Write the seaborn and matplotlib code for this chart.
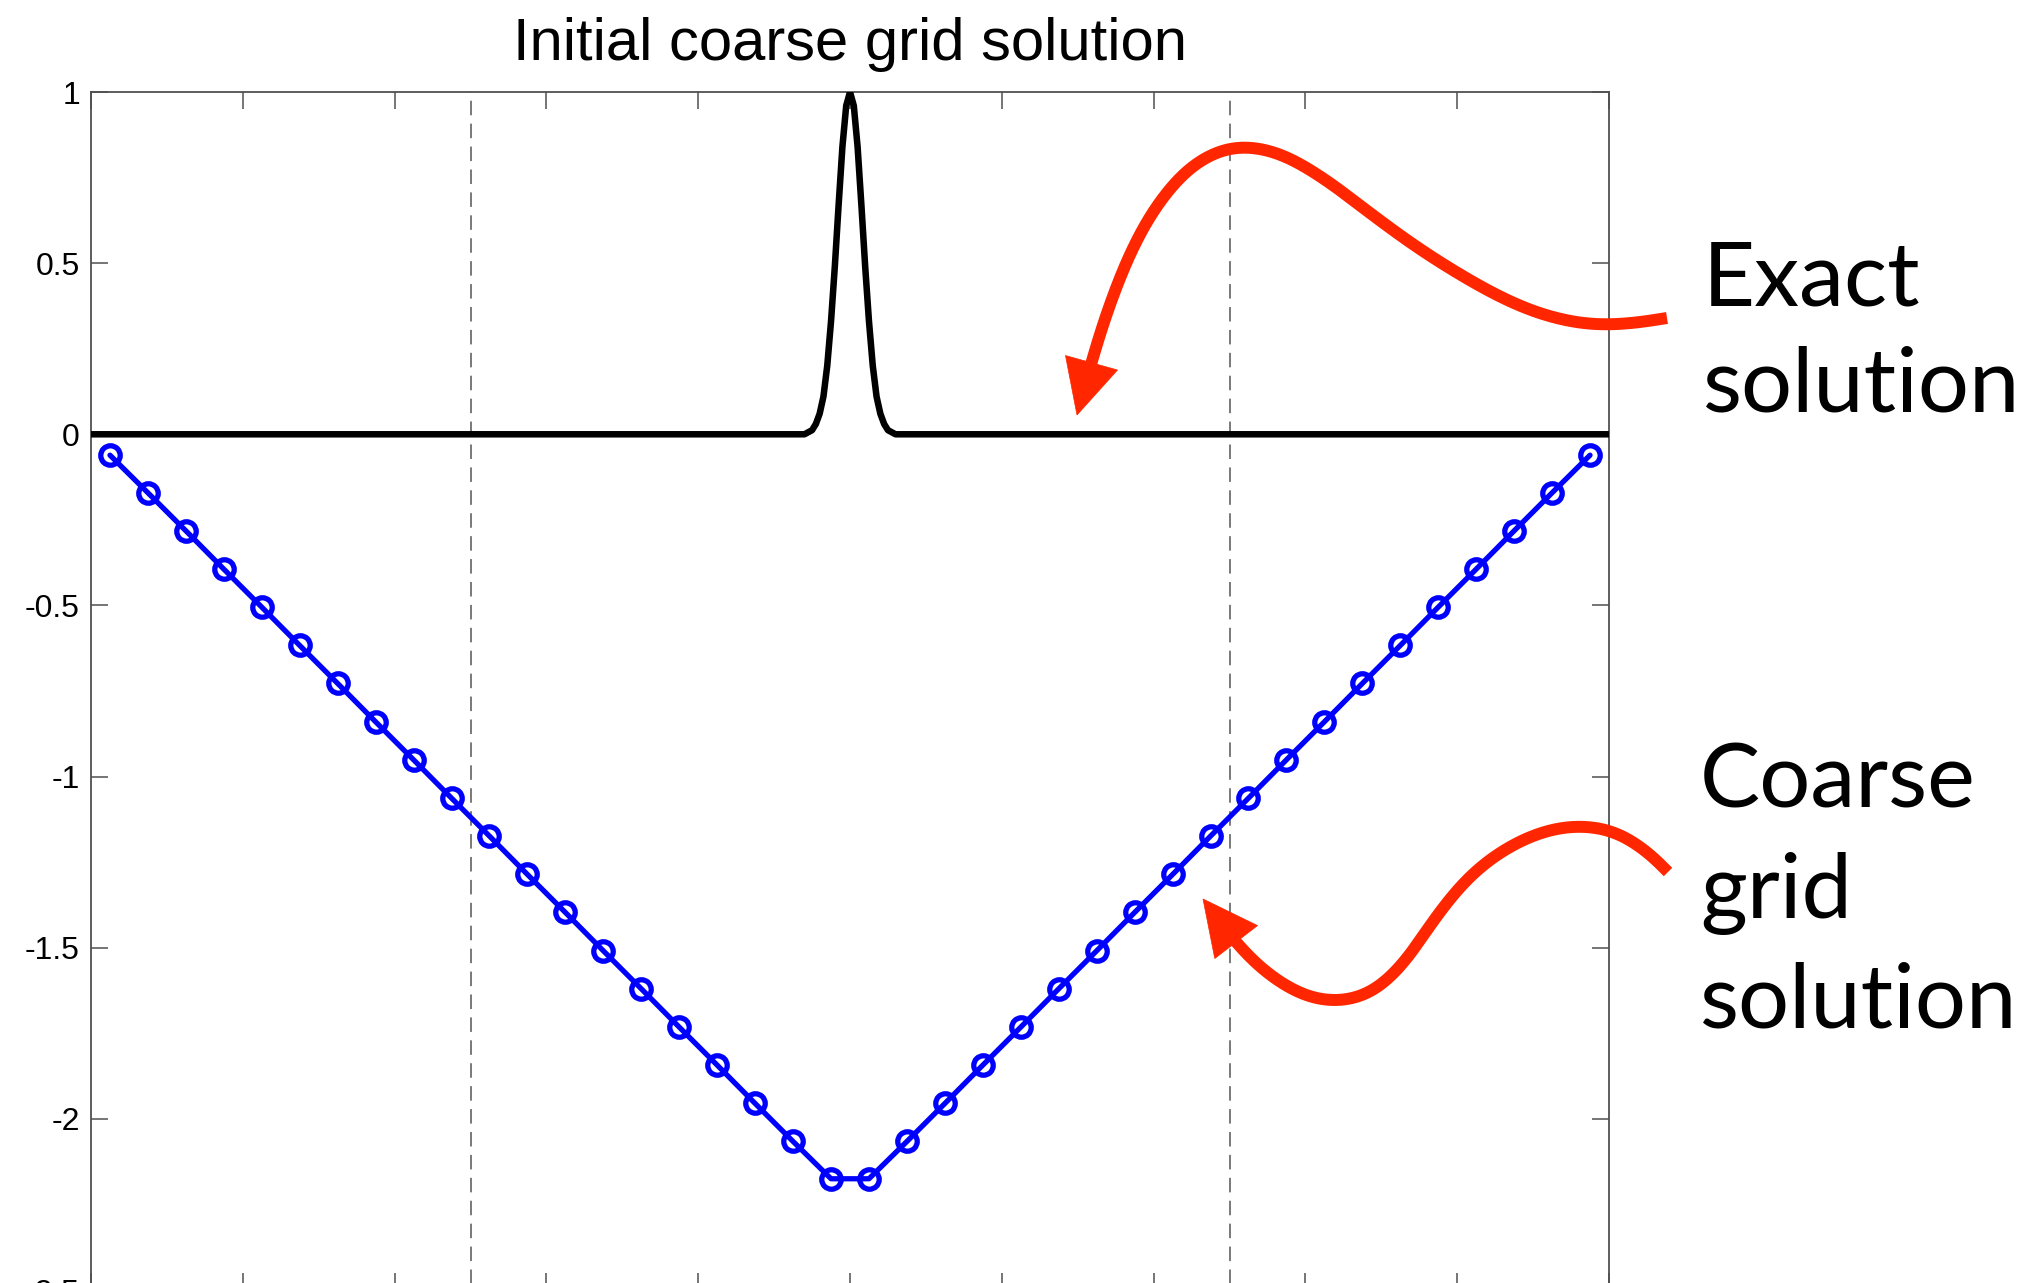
import numpy as np
import pandas as pd
import matplotlib
matplotlib.use("Agg")
import matplotlib.pyplot as plt
from matplotlib.lines import Line2D
from matplotlib.patches import Polygon
import seaborn as sns

# ---------------- data ----------------
# coarse grid nodes (cell centres) and coarse-grid solution values
coarse_x = [0.0125, 0.0375, 0.0625, 0.0875, 0.1125, 0.1375, 0.1625, 0.1875,
            0.2125, 0.2375, 0.2625, 0.2875, 0.3125, 0.3375, 0.3625, 0.3875,
            0.4125, 0.4375, 0.4625, 0.4875, 0.5125, 0.5375, 0.5625, 0.5875,
            0.6125, 0.6375, 0.6625, 0.6875, 0.7125, 0.7375, 0.7625, 0.7875,
            0.8125, 0.8375, 0.8625, 0.8875, 0.9125, 0.9375, 0.9625, 0.9875]
coarse_u = [-0.061, -0.171, -0.282, -0.394, -0.505, -0.617, -0.728, -0.840,
            -0.951, -1.063, -1.174, -1.286, -1.397, -1.509, -1.620, -1.732,
            -1.843, -1.955, -2.066, -2.175, -2.175, -2.066, -1.955, -1.843,
            -1.732, -1.620, -1.509, -1.397, -1.286, -1.174, -1.063, -0.951,
            -0.840, -0.728, -0.617, -0.505, -0.394, -0.282, -0.171, -0.061]

# exact solution (narrow peak at x = 0.5)
exact_x = [0.0, 0.47, 0.475, 0.4775, 0.48, 0.4825, 0.485, 0.4875, 0.49,
           0.4925, 0.495, 0.4975, 0.5, 0.5025, 0.505, 0.5075, 0.51, 0.5125,
           0.515, 0.5175, 0.52, 0.5225, 0.525, 0.53, 1.0]
exact_u = [0.0, 0.0, 0.012, 0.03, 0.06, 0.11, 0.20, 0.33, 0.49,
           0.67, 0.84, 0.96, 1.0, 0.96, 0.84, 0.67, 0.49, 0.33,
           0.20, 0.11, 0.06, 0.03, 0.012, 0.0, 0.0]

# coarse-grid subdomain boundaries (dashed lines)
boundaries = [0.25, 0.75]

y_ticks = [1, 0.5, 0, -0.5, -1, -1.5, -2, -2.5]
y_tick_labels = ["1", "0.5", "0", "-0.5", "-1", "-1.5", "-2", "-2.5"]
x_ticks = [0.0, 0.1, 0.2, 0.3, 0.4, 0.5, 0.6, 0.7, 0.8, 0.9, 1.0]

title = "Initial coarse grid solution"
label_exact = ["Exact", "solution"]
label_coarse = ["Coarse", "grid", "solution"]

# ---------------- figure ----------------
sns.set_theme(style="ticks")
plt.rcParams["font.family"] = ["Liberation Sans", "DejaVu Sans"]

W, H = 2044, 1283
fig = plt.figure(figsize=(W / 100, H / 100), dpi=100)
fig.patch.set_facecolor("white")


def fx(px):
    return np.asarray(px, float) / W


def fy(py):
    return 1 - np.asarray(py, float) / H


ax_left, ax_right, ax_top, ax_bottom = 91, 1609, 92, 1290
ax = fig.add_axes([fx(ax_left), fy(ax_bottom), fx(ax_right - ax_left),
                   (ax_bottom - ax_top) / H])
ax.set_facecolor("white")

# dashed boundaries
for b in boundaries:
    ax.axvline(b, color="#555555", lw=1.1, linestyle=(0, (9.5, 5.5)), zorder=1)

df_exact = pd.DataFrame({"x": exact_x, "u": exact_u})
df_coarse = pd.DataFrame({"x": coarse_x, "u": coarse_u})

sns.lineplot(data=df_exact, x="x", y="u", ax=ax, color="black", lw=4.7,
             sort=False, zorder=3)
sns.lineplot(data=df_coarse, x="x", y="u", ax=ax, color="#0000ff", lw=3.8,
             marker="o", markersize=14, markerfacecolor="none",
             markeredgecolor="#0000ff", markeredgewidth=3.8, zorder=4,
             clip_on=False)

ax.set_xlim(0, 1)
ax.set_ylim(-2.5, 1)
ax.set_xticks(x_ticks)
ax.set_xticklabels([""] * len(x_ticks))
ax.set_yticks(y_ticks)
ax.set_yticklabels(y_tick_labels)
ax.set_xlabel("")
ax.set_ylabel("")

spine_col = "#505050"
for s in ax.spines.values():
    s.set_visible(True)
    s.set_color(spine_col)
    s.set_linewidth(1.3)
ax.tick_params(axis="both", which="both", direction="in", length=12,
               width=1.1, color=spine_col, top=True, right=True,
               labelsize=23, labelcolor="black", pad=8)

ax.set_title(title, fontsize=43, color="black", pad=23)

# ---------------- annotations ----------------
txt_kw = dict(family=["Lato", "DejaVu Sans"], fontsize=65, color="black",
              ha="left", va="baseline", transform=fig.transFigure)
for line, yb in zip(label_exact, [306, 412]):
    fig.text(fx(1703), fy(yb), line, **txt_kw)
for line, yb in zip(label_coarse, [808, 918, 1027]):
    fig.text(fx(1700), fy(yb), line, **txt_kw)


def centripetal_cr(pts, n=40, alpha=0.5):
    P = np.asarray(pts, float)
    P = np.vstack([2 * P[0] - P[1], P, 2 * P[-1] - P[-2]])
    out = []
    for i in range(1, len(P) - 2):
        p0, p1, p2, p3 = P[i - 1], P[i], P[i + 1], P[i + 2]
        t0 = 0.0
        t1 = t0 + np.linalg.norm(p1 - p0) ** alpha
        t2 = t1 + np.linalg.norm(p2 - p1) ** alpha
        t3 = t2 + np.linalg.norm(p3 - p2) ** alpha
        t = np.linspace(t1, t2, n, endpoint=False)[:, None]
        A1 = (t1 - t) / (t1 - t0) * p0 + (t - t0) / (t1 - t0) * p1
        A2 = (t2 - t) / (t2 - t1) * p1 + (t - t1) / (t2 - t1) * p2
        A3 = (t3 - t) / (t3 - t2) * p2 + (t - t2) / (t3 - t2) * p3
        B1 = (t2 - t) / (t2 - t0) * A1 + (t - t0) / (t2 - t0) * A2
        B2 = (t3 - t) / (t3 - t1) * A2 + (t - t1) / (t3 - t1) * A3
        C = (t2 - t) / (t2 - t1) * B1 + (t - t1) / (t2 - t1) * B2
        out.append(C)
    out.append(P[-2][None])
    return np.vstack(out)


def resample_smooth(c, step=2.0, win=41):
    # resample by arc length, then smooth with odd-reflected padding
    seg = np.hypot(*np.diff(c, axis=0).T)
    s = np.concatenate([[0], np.cumsum(seg)])
    ss = np.arange(0, s[-1], step)
    ss = np.append(ss, s[-1])
    r = np.column_stack([np.interp(ss, s, c[:, 0]), np.interp(ss, s, c[:, 1])])
    h = win // 2
    pre = 2 * r[0] - r[1:h + 1][::-1]
    post = 2 * r[-1] - r[-h - 1:-1][::-1]
    rp = np.vstack([pre, r, post])
    k = np.ones(win) / win
    sm = np.column_stack([np.convolve(rp[:, 0], k, mode="valid"),
                          np.convolve(rp[:, 1], k, mode="valid")])
    return sm


red = "#ff2600"


def curved_arrow(pts, head_len=54, head_w=54, lw=8.6):
    c = resample_smooth(centripetal_cr(pts))
    tip = c[-1]
    d = np.hypot(c[:, 0] - tip[0], c[:, 1] - tip[1])
    idx = np.where(d >= head_len)[0][-1]
    base = c[idx]
    body = np.vstack([c[:idx + 1], base + (tip - base) * 0.3])
    fig.add_artist(Line2D(fx(body[:, 0]), fy(body[:, 1]), color=red, lw=lw,
                          solid_capstyle="butt", solid_joinstyle="round",
                          transform=fig.transFigure, zorder=10))
    v = (tip - base) / np.hypot(*(tip - base))
    nrm = np.array([-v[1], v[0]])
    c1 = base + nrm * head_w / 2
    c2 = base - nrm * head_w / 2
    tri = np.array([tip, c1, c2])
    fig.add_artist(Polygon(np.column_stack([fx(tri[:, 0]), fy(tri[:, 1])]),
                           closed=True, facecolor=red, edgecolor=red, lw=0.5,
                           transform=fig.transFigure, zorder=11))


arrow1 = [(1667, 318), (1603, 326), (1536, 313), (1469, 280), (1402, 237),
          (1353, 200), (1312, 170), (1268, 148), (1245, 144), (1210, 152),
          (1179, 177), (1147, 220), (1120, 277), (1098, 340), (1077, 415)]
arrow2 = [(1668, 872), (1632, 838), (1580, 824), (1520, 840), (1465, 880),
          (1420, 940), (1385, 985), (1340, 1004), (1290, 990), (1240, 948),
          (1203, 899)]
curved_arrow(arrow1)
curved_arrow(arrow2)

fig.savefig("out.png", dpi=100, facecolor="white")
